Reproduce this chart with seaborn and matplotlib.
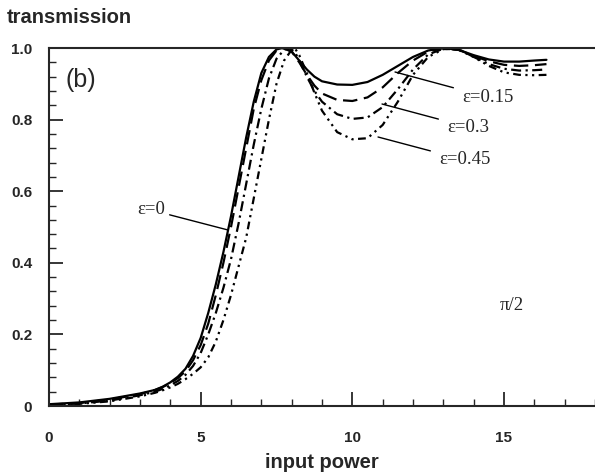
import numpy as np
import pandas as pd
import matplotlib
matplotlib.use("Agg")
import matplotlib.pyplot as plt
import seaborn as sns

# values
power_0 = [0, 1, 2, 3, 3.5, 3.75, 4, 4.25, 4.5, 4.75, 5, 5.25, 5.5, 5.75, 6, 6.25, 6.5, 6.75, 7, 7.25, 7.5, 7.7,
           8, 8.25, 8.5, 8.75, 9, 9.5, 10, 10.5, 11, 11.5, 12, 12.5, 13, 13.5, 14, 14.5, 15, 15.5, 16, 16.4]
trans_0 = [0.005, 0.01, 0.02, 0.035, 0.045, 0.054, 0.066, 0.082, 0.104, 0.14, 0.19, 0.26, 0.34, 0.43, 0.53, 0.64, 0.75, 0.85, 0.93, 0.975, 0.996, 1.0,
           0.99, 0.965, 0.94, 0.92, 0.907, 0.898, 0.897, 0.905, 0.925, 0.95, 0.975, 0.993, 1.0, 0.995, 0.98, 0.968, 0.962, 0.962, 0.965, 0.967]

power_15 = [0, 1, 2, 3, 3.5, 3.75, 4, 4.25, 4.5, 4.75, 5, 5.25, 5.5, 5.75, 6, 6.25, 6.5, 6.75, 7, 7.25, 7.5, 7.75,
            8, 8.25, 8.5, 8.75, 9, 9.5, 10, 10.5, 11, 11.5, 12, 12.5, 13, 13.5, 14, 14.5, 15, 15.5, 16, 16.4]
trans_15 = [0.004, 0.008, 0.018, 0.033, 0.045, 0.053, 0.064, 0.078, 0.097, 0.128, 0.17, 0.23, 0.31, 0.40, 0.50, 0.61, 0.72, 0.83, 0.91, 0.965, 0.993, 1.0,
            0.99, 0.96, 0.925, 0.895, 0.873, 0.855, 0.852, 0.862, 0.89, 0.93, 0.965, 0.99, 1.0, 0.995, 0.978, 0.963, 0.953, 0.95, 0.952, 0.955]

power_30 = [0, 1, 2, 3, 3.5, 3.75, 4, 4.25, 4.5, 4.75, 5, 5.25, 5.5, 5.75, 6, 6.25, 6.5, 6.75, 7, 7.25, 7.5, 7.75, 7.9,
            8.1, 8.25, 8.5, 8.75, 9, 9.5, 10, 10.5, 11, 11.5, 12, 12.5, 13, 13.5, 14, 14.5, 15, 15.5, 16, 16.4]
trans_30 = [0.003, 0.007, 0.015, 0.03, 0.04, 0.048, 0.058, 0.07, 0.087, 0.112, 0.148, 0.2, 0.26, 0.33, 0.41, 0.51, 0.62, 0.73, 0.83, 0.915, 0.97, 0.995, 1.0,
            0.99, 0.965, 0.92, 0.88, 0.85, 0.815, 0.802, 0.806, 0.835, 0.885, 0.94, 0.982, 0.998, 0.995, 0.975, 0.955, 0.942, 0.937, 0.938, 0.94]

power_45 = [0, 1, 2, 3, 3.5, 3.75, 4, 4.25, 4.5, 4.75, 5, 5.25, 5.5, 5.75, 6, 6.25, 6.5, 6.75, 7, 7.25, 7.5, 7.75, 8, 8.1,
            8.25, 8.5, 8.75, 9, 9.5, 10, 10.5, 11, 11.5, 12, 12.5, 13, 13.5, 14, 14.5, 15, 15.5, 16, 16.4]
trans_45 = [0.002, 0.006, 0.013, 0.027, 0.037, 0.044, 0.052, 0.062, 0.075, 0.09, 0.108, 0.136, 0.18, 0.24, 0.31, 0.39, 0.47, 0.58, 0.69, 0.8, 0.9, 0.965, 0.995, 1.0,
            0.98, 0.93, 0.875, 0.825, 0.765, 0.745, 0.748, 0.785, 0.85, 0.925, 0.975, 0.997, 0.997, 0.975, 0.95, 0.932, 0.925, 0.924, 0.925]

eps_labels = ["ε=0", "ε=0.15", "ε=0.3", "ε=0.45"]

# long format table for seaborn
frames = []
for lab, xs, ys in zip(eps_labels, [power_0, power_15, power_30, power_45],
                       [trans_0, trans_15, trans_30, trans_45]):
    frames.append(pd.DataFrame({"power": xs, "T": ys, "eps": lab}))
df = pd.concat(frames, ignore_index=True)

sns.set_style("ticks")
plt.rcParams["font.family"] = ["Liberation Sans", "DejaVu Sans"]

fig = plt.figure(figsize=(5.95, 4.74), dpi=100)
ax = fig.add_axes([49 / 595, 1 - 406 / 474, 1 - 49 / 595, (406 - 48) / 474])

dash_map = {"ε=0": "", "ε=0.15": (6.5, 3), "ε=0.3": (4.5, 2, 1, 2), "ε=0.45": (3.5, 2, 1, 2, 1, 2)}
sns.lineplot(data=df, x="power", y="T", style="eps", dashes=dash_map, color="black",
             linewidth=1.6, estimator=None, sort=False, legend=False, ax=ax)

ax.set_xlim(0, 18)
ax.set_ylim(0, 1.0)
ax.set_xticks([0, 5, 10, 15])
ax.set_xticklabels(["0", "5", "10", "15"])
ax.set_xticks(np.arange(0, 18.1, 1), minor=True)
ax.set_yticks([0, 0.2, 0.4, 0.6, 0.8, 1.0])
ax.set_yticklabels(["0", "0.2", "0.4", "0.6", "0.8", "1.0"])
ax.set_yticks(np.arange(0, 1.001, 0.04), minor=True)
ax.tick_params(which="major", direction="in", length=10, width=1.3, labelsize=11)
ax.tick_params(which="minor", direction="in", length=5, width=1.0)
ax.tick_params(axis="x", which="both", pad=18)
ax.tick_params(axis="y", which="both", pad=12)
for t in ax.get_xticklabels() + ax.get_yticklabels():
    t.set_fontweight("bold")

ax.spines["right"].set_visible(False)
for s in ["left", "top", "bottom"]:
    ax.spines[s].set_linewidth(1.5)

ax.set_xlabel("input power", fontsize=14.5, fontweight="bold")
ax.xaxis.set_label_coords(0.5, -0.13)
ax.set_ylabel("")
fig.text(7 / 595, 1 - 23 / 474, "transmission", fontsize=14.5, fontweight="bold",
         ha="left", va="baseline")

def px(x, y):
    return (x - 49) / 30.33, (406 - y) / 358

serif = ["Liberation Serif", "DejaVu Serif"]
# labels with leader lines
ax.annotate("ε=0", xy=px(228, 230), xytext=px(165, 210), fontsize=13.5, family=serif,
            ha="right", va="center", arrowprops=dict(arrowstyle="-", color="black", lw=1.0,
                                                     shrinkA=1, shrinkB=0))
ax.annotate("ε=0.15", xy=px(395, 72), xytext=px(462, 97), fontsize=13.5, family=serif,
            ha="left", va="center", arrowprops=dict(arrowstyle="-", color="black", lw=1.0,
                                                    shrinkA=4, shrinkB=0))
ax.annotate("ε=0.3", xy=px(382, 104), xytext=px(447, 127), fontsize=13.5, family=serif,
            ha="left", va="center", arrowprops=dict(arrowstyle="-", color="black", lw=1.0,
                                                   shrinkA=4, shrinkB=0))
ax.annotate("ε=0.45", xy=px(378, 137), xytext=px(439, 160), fontsize=13.5, family=serif,
            ha="left", va="center", arrowprops=dict(arrowstyle="-", color="black", lw=1.0,
                                                    shrinkA=4, shrinkB=0))
ax.text(*px(500, 305), "π/2", fontsize=13.5, family=serif, ha="left", va="center")
ax.text(*px(65, 80), "(b)", fontsize=18, ha="left", va="center")

fig.savefig("out.png", dpi=100)
